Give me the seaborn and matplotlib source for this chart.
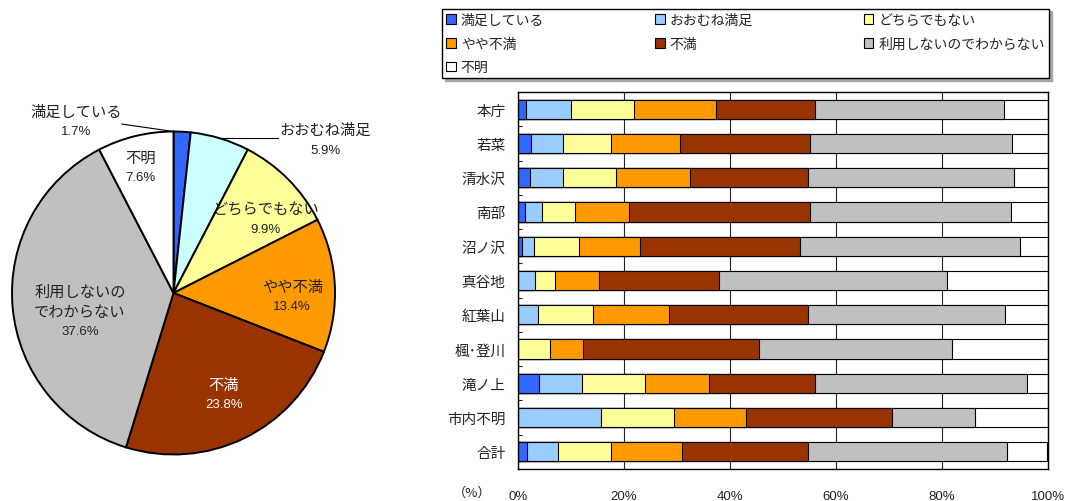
import numpy as np
import pandas as pd
import matplotlib
matplotlib.use("Agg")
import matplotlib.pyplot as plt
import seaborn as sns
from matplotlib.patches import Patch

sns.set_style("white")
plt.rcParams["font.family"] = ["Noto Sans CJK JP", "DejaVu Sans"]

# 回答区分
responses = ["満足している", "おおむね満足", "どちらでもない", "やや不満", "不満",
             "利用しないのでわからない", "不明"]
bar_colors = ["#3366FF", "#99CCFF", "#FFFF99", "#FF9900", "#993300", "#C0C0C0", "#FFFFFF"]
pie_colors = ["#3366FF", "#CCFFFF", "#FFFF99", "#FF9900", "#993300", "#C0C0C0", "#FFFFFF"]

# 全体の回答割合（％）
total_share = [1.7, 5.9, 9.9, 13.4, 23.8, 37.6, 7.6]
pie_labels = ["満足している", "おおむね満足", "どちらでもない", "やや不満", "不満",
              "利用しないの\nでわからない", "不明"]

# 地区別の回答割合（％）
areas = ["本庁", "若菜", "清水沢", "南部", "沼ノ沢", "真谷地", "紅葉山", "楓･登川",
         "滝ノ上", "市内不明", "合計"]
satisfied = [1.5, 2.5, 2.2, 1.3, 0.8, 0.0, 0.0, 0.0, 4.0, 0.0, 1.7]
mostly = [8.5, 5.9, 6.2, 3.3, 2.3, 3.3, 3.8, 0.0, 8.0, 15.7, 5.9]
neutral = [11.9, 9.2, 10.1, 6.2, 8.5, 3.6, 10.4, 6.1, 12.0, 13.7, 9.9]
somewhat = [15.4, 12.9, 14.0, 10.1, 11.4, 8.4, 14.2, 6.1, 12.0, 13.7, 13.4]
dissatisfied = [18.8, 24.5, 22.2, 34.1, 30.2, 22.6, 26.3, 33.3, 20.0, 27.5, 23.8]
not_used = [35.6, 38.2, 38.8, 38.0, 41.5, 43.1, 37.1, 36.4, 40.0, 15.7, 37.6]
unknown = [8.3, 6.8, 6.5, 7.0, 5.3, 19.0, 8.2, 18.1, 4.0, 13.7, 7.6]

x_ticks = [0, 20, 40, 60, 80, 100]
x_tick_labels = ["0%", "20%", "40%", "60%", "80%", "100%"]

W, H = 1071, 502
fig = plt.figure(figsize=(W / 100, H / 100), dpi=100)


def box(left, top, right, bottom):
    return [left / W, 1 - bottom / H, (right - left) / W, (bottom - top) / H]


num_font = ["Liberation Sans", "Noto Sans CJK JP"]
TEXT = "#222222"
PITCH = 14.4  # 行送り（pt）

# ---- 円グラフ（全体） ----
ax_pie = fig.add_axes(box(12, 132.5, 335, 455.5))
wedges, _ = ax_pie.pie(total_share, colors=pie_colors, startangle=90, counterclock=False,
                       radius=1.0, wedgeprops=dict(edgecolor="black", linewidth=1.4))
ax_pie.set_xlim(-1, 1)
ax_pie.set_ylim(-1, 1)
ax_pie.set_aspect("equal")
ax_pie.axis("off")


def two_line_label(ax, x, y, name, value, color=TEXT):
    nlines = name.count("\n") + 1
    ax.annotate(name, (x, y), xytext=(0, PITCH / 2), textcoords="offset points",
                ha="center", va="center", fontsize=11, color=color,
                linespacing=1.2, annotation_clip=False)
    ax.annotate(f"{value:.1f}%", (x, y), xytext=(0, -PITCH * nlines / 2),
                textcoords="offset points", ha="center", va="center", fontsize=9.5,
                color=color, family=num_font, annotation_clip=False)


# 扇形内ラベル: (半径, 中心角からのずれ[度, 時計回り])
inner_pos = {2: (0.73, 6.0), 3: (0.735, 4.4), 4: (0.70, -0.7), 5: (0.59, -6.0),
             6: (0.805, -1.2)}
for i, w in enumerate(wedges):
    if i in inner_pos:
        r, shift = inner_pos[i]
        mid = np.deg2rad((w.theta1 + w.theta2) / 2 - shift)
        col = "white" if i == 4 else TEXT
        two_line_label(ax_pie, r * np.cos(mid), r * np.sin(mid), pie_labels[i],
                       total_share[i], col)

# 外側ラベルと引出線
w0, w1 = wedges[0], wedges[1]
a0 = np.deg2rad(max(w0.theta1, w0.theta2))
ax_pie.plot([np.cos(a0), -0.32], [np.sin(a0), 1.046], color="black", lw=0.8, clip_on=False)
two_line_label(ax_pie, -0.6, 1.065, pie_labels[0], total_share[0])
a1 = np.deg2rad((w1.theta1 + w1.theta2) / 2)
ax_pie.plot([np.cos(a1), 0.645], [np.sin(a1), np.sin(a1)], color="black", lw=0.8,
            clip_on=False)
two_line_label(ax_pie, 0.94, 0.95, pie_labels[1], total_share[1])

# ---- 帯グラフ（地区別） ----
ax_bar = fig.add_axes(box(518, 93, 1048, 470))
values = np.array([satisfied, mostly, neutral, somewhat, dissatisfied, not_used, unknown])
cum = np.cumsum(values, axis=0)
for i in reversed(range(len(responses))):
    df = pd.DataFrame({"area": areas, "cum": cum[i]})
    sns.barplot(data=df, x="cum", y="area", orient="h", color=bar_colors[i], saturation=1,
                edgecolor="black", linewidth=0.8, width=0.56, errorbar=None, ax=ax_bar)

ax_bar.set_xlim(0, 100)
ax_bar.set_xlabel("")
ax_bar.set_ylabel("")
ax_bar.set_axisbelow(True)
ax_bar.xaxis.grid(True, color=TEXT, linewidth=0.8)
ax_bar.set_xticks(x_ticks)
ax_bar.set_xticklabels(x_tick_labels, family=num_font, fontsize=9.5, color=TEXT)
ax_bar.tick_params(axis="x", length=0, pad=15)
ax_bar.tick_params(axis="y", length=0, pad=9, labelsize=10.5, labelcolor=TEXT)
ax_bar.set_yticks(np.arange(len(areas) - 1) + 0.5, minor=True)
ax_bar.tick_params(axis="y", which="minor", direction="in", length=3, width=0.8,
                   color=TEXT, left=True)
for sp in ax_bar.spines.values():
    sp.set_color("black")
    sp.set_linewidth(1.0)
ax_bar.text(-0.087, -0.062, "（%）", transform=ax_bar.transAxes, ha="center", va="center",
            fontsize=9.5, color=TEXT)

# ---- 凡例 ----
order = [0, 3, 6, 1, 4, 2, 5]
handles = [Patch(facecolor=bar_colors[i], edgecolor="black", linewidth=0.8) for i in order]
labels = [responses[i] for i in order]
leg = fig.legend(handles, labels, loc="center", ncol=3, mode="expand",
                 bbox_to_anchor=(442 / W, 1 - 80 / H, 607 / W, 71 / H),
                 fontsize=10, frameon=True, fancybox=False, edgecolor="black",
                 framealpha=1, handlelength=0.7, handleheight=0.7, handletextpad=0.35,
                 labelspacing=0.7, borderpad=0.3, borderaxespad=0,
                 shadow={"color": "0.65", "alpha": 1})
leg.get_frame().set_linewidth(1.0)
for t in leg.get_texts():
    t.set_color(TEXT)

fig.savefig("out.png", dpi=100)
